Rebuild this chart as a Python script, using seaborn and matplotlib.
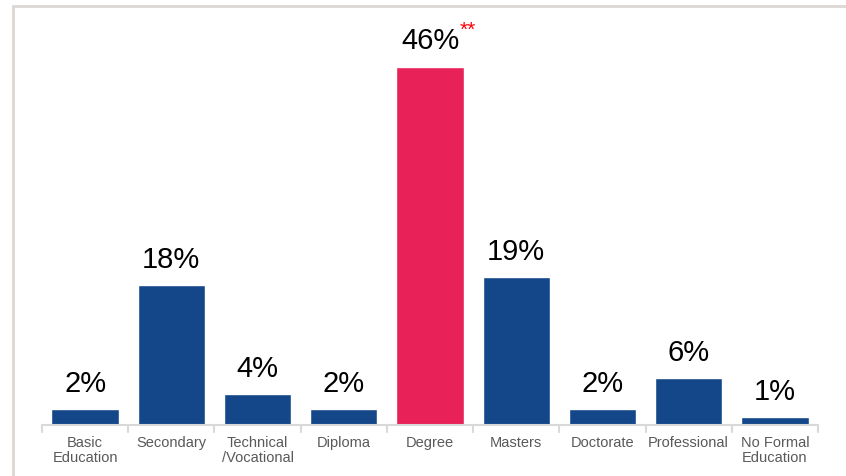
import matplotlib
matplotlib.use("Agg")
import matplotlib.pyplot as plt
import seaborn as sns
import pandas as pd
from matplotlib.lines import Line2D

categories = ["Basic\nEducation", "Secondary", "Technical\n/Vocational", "Diploma",
              "Degree", "Masters", "Doctorate", "Professional", "No Formal\nEducation"]
values = [2, 18, 4, 2, 46, 19, 2, 6, 1]
labels = ["2%", "18%", "4%", "2%", "46%", "19%", "2%", "6%", "1%"]
highlight = "Degree"

blue = "#14478a"
pink = "#e82158"

df = pd.DataFrame({"category": categories, "value": values})
palette = {c: (pink if c == highlight else blue) for c in categories}

sns.set_style("white")
plt.rcParams["font.family"] = ["Liberation Sans", "DejaVu Sans"]

fig = plt.figure(figsize=(8.46, 4.76), dpi=100)
ax = fig.add_axes([42 / 846, 51 / 476, 776 / 846, 420 / 476])

sns.barplot(data=df, x="category", y="value", hue="category", palette=palette,
            width=0.78, saturation=1, legend=False, ax=ax)

ax.set_ylim(0, 53.9)
ax.set_xlim(-0.5, len(categories) - 0.5)
ax.set_xlabel("")
ax.set_ylabel("")
ax.set_yticks([])
for s in ["top", "right", "left"]:
    ax.spines[s].set_visible(False)
ax.spines["bottom"].set_color("#d9d9d9")
ax.spines["bottom"].set_linewidth(1.5)

ax.set_xticks(range(len(categories)))
ax.set_xticklabels(categories, fontsize=10.5, color="#595959", linespacing=1.05)
ax.tick_params(axis="x", length=0, pad=8)

# separators between categories
for i in range(len(categories) + 1):
    ax.plot([i - 0.5, i - 0.5], [0, -0.9], color="#d9d9d9", lw=1.5, clip_on=False)

for i, (v, t) in enumerate(zip(values, labels)):
    txt = ax.annotate(t, (i, v), xytext=(0, 8), textcoords="offset points",
                      ha="center", va="bottom", fontsize=21, color="black")
    if categories[i] == highlight:
        ax.annotate("**", xy=(1.0, 1.0), xycoords=txt, xytext=(0, -2),
                    textcoords="offset points", ha="left", va="center",
                    fontsize=15, color="#ff0000")

# outer frame lines
fig.add_artist(Line2D([12.5 / 846, 1], [1 - 5.5 / 476] * 2, color="#ddd7d3", lw=2,
                      transform=fig.transFigure))
fig.add_artist(Line2D([12.5 / 846] * 2, [0, 1 - 5.5 / 476], color="#ddd7d3", lw=2,
                      transform=fig.transFigure))

fig.savefig("out.png", dpi=100)
